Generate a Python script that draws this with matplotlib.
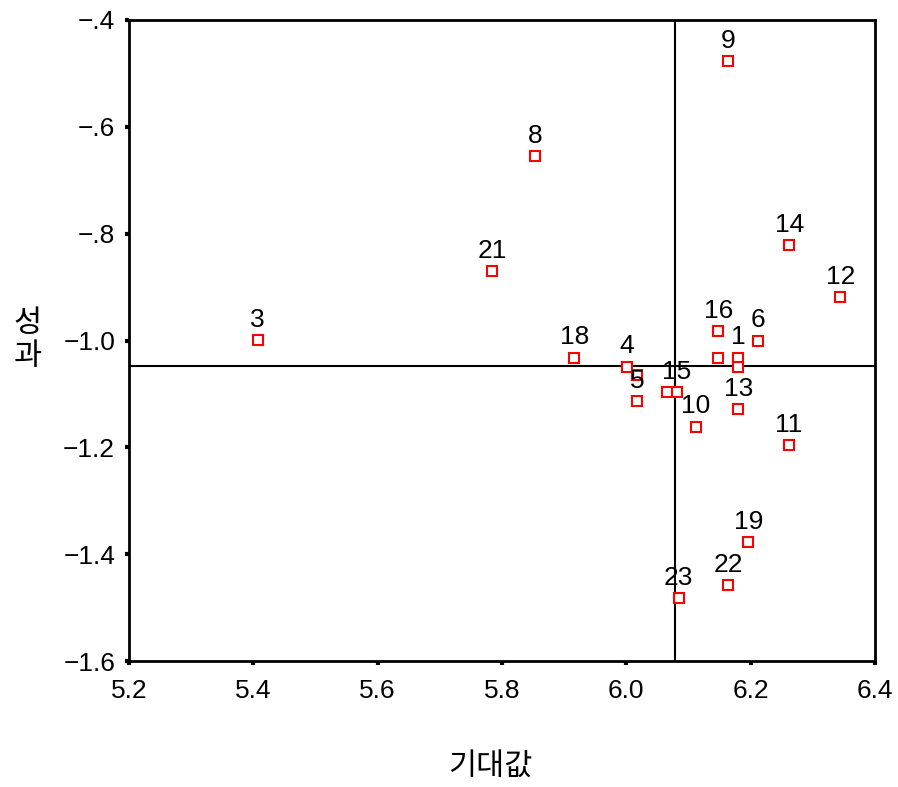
import matplotlib
matplotlib.use('Agg')
import matplotlib.pyplot as plt

plt.rcParams['font.family'] = ['Liberation Sans', 'Noto Sans CJK KR', 'DejaVu Sans']

# point ids and coordinates (expectation vs. performance)
ids = [str(i) for i in range(1, 24)]
expect = [6.180, 6.148, 5.407, 6.001, 6.017, 6.212, 6.180, 5.853, 6.163, 6.112,
          6.261, 6.344, 6.180, 6.262, 6.081, 6.148, 6.017, 5.916, 6.196, 6.065,
          5.784, 6.164, 6.084]
perform = [-1.032, -1.032, -0.999, -1.049, -1.113, -1.000, -1.049, -0.655, -0.477, -1.161,
           -1.196, -0.919, -1.128, -0.821, -1.097, -0.983, -1.065, -1.032, -1.377, -1.097,
           -0.870, -1.458, -1.482]
# labels hidden because they overlap other labels
hidden = ['2', '7', '17', '20']

mean_x = 6.078
mean_y = -1.048

xticks = [5.2, 5.4, 5.6, 5.8, 6.0, 6.2, 6.4]
xtick_labels = ['5.2', '5.4', '5.6', '5.8', '6.0', '6.2', '6.4']
yticks = [-0.4, -0.6, -0.8, -1.0, -1.2, -1.4, -1.6]
ytick_labels = ['−.4', '−.6', '−.8', '−1.0', '−1.2', '−1.4', '−1.6']

fig = plt.figure(figsize=(8.98, 7.87), dpi=100)
ax = fig.add_axes([0.1437, 0.160, 0.8307, 0.8146])

ax.axhline(mean_y, color='black', linewidth=1.5, zorder=1)
ax.axvline(mean_x, color='black', linewidth=1.5, zorder=1)

ax.plot(expect, perform, linestyle='none', marker='s', markersize=6.5,
        markerfacecolor='white', markeredgecolor='red', markeredgewidth=1.5, zorder=3)

for lab, x, y in zip(ids, expect, perform):
    if lab in hidden:
        continue
    ax.annotate(lab, (x, y), xytext=(0, 6), textcoords='offset points',
                ha='center', va='bottom', fontsize=19, zorder=4)

ax.set_xlim(5.2, 6.4)
ax.set_ylim(-1.6, -0.4)
ax.set_xticks(xticks)
ax.set_xticklabels(xtick_labels)
ax.set_yticks(yticks)
ax.set_yticklabels(ytick_labels)
ax.tick_params(direction='out', length=3, width=3, labelsize=19, pad=7)
ax.tick_params(axis='x', pad=10)

for s in ax.spines.values():
    s.set_linewidth(2)

fig.text(0.546, 0.026, '기대값', fontsize=22, ha='center', va='center',
         family=['Noto Sans CJK KR'], fontweight='light')
fig.text(0.031, 0.568, '성\n과', fontsize=22, ha='center', va='center',
         linespacing=1.1, family=['Noto Sans CJK KR'], fontweight='light')

fig.savefig('out.png', dpi=100)
